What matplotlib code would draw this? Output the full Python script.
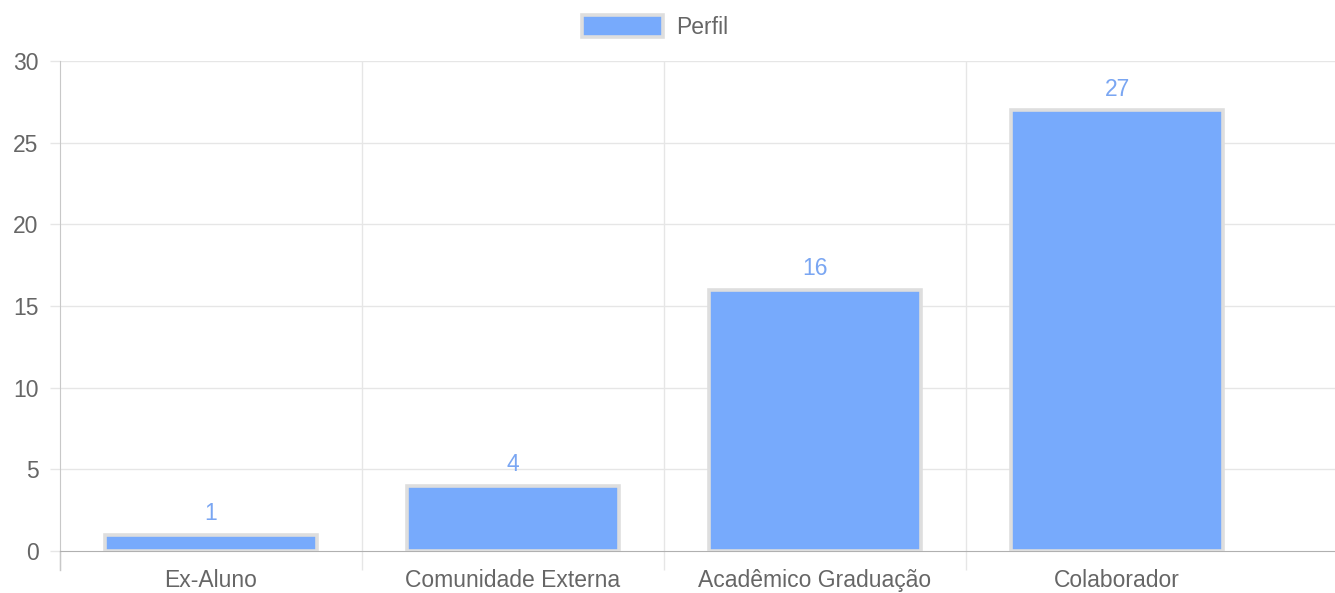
import matplotlib

matplotlib.use("Agg")
import matplotlib.pyplot as plt
import numpy as np

categories = ["Ex-Aluno", "Comunidade Externa", "Acadêmico Graduação", "Colaborador"]
values = [1, 4, 16, 27]
series_name = "Perfil"
y_ticks = [0, 5, 10, 15, 20, 25, 30]

BAR = "#77aafc"
EDGE = "#dedede"
GRID = "#e6e6e6"
AXIS = "#b0b0b0"
TEXT = "#666666"
LABEL = "#7aa6f2"

plt.rcParams["font.family"] = ["Liberation Sans", "DejaVu Sans"]

W, H = 1335, 593
fig = plt.figure(figsize=(W / 100, H / 100), dpi=100)
ax = fig.add_axes([60 / W, (H - 551) / H, 1 - 60 / W, (551 - 61) / H])

x = np.arange(len(categories))
bars = ax.bar(x, values, width=0.7, color=BAR, edgecolor=EDGE, linewidth=2.6,
              label=series_name, zorder=3)

for xi, v in zip(x, values):
    ax.annotate(str(v), (xi, v), xytext=(0, 15), textcoords="offset points",
                ha="center", va="center", fontsize=16.5, color=LABEL, zorder=4)

# category width in px = 302 -> right edge of axes runs past the last slot
ax.set_xlim(-0.5, -0.5 + (W - 60) / 302)
ax.set_ylim(0, 30)

# vertical grid lines at category boundaries, extended downward as tick marks
bounds = np.arange(len(categories)) - 0.5
ax.set_xticks(bounds)
ax.set_xticklabels([])
ax.set_xticks(x, minor=True)
ax.set_xticklabels(categories, minor=True)
ax.tick_params(axis="x", which="major", length=13.5, color=GRID, width=1)
ax.tick_params(axis="x", which="minor", length=0, pad=13, labelsize=16.5,
               labelcolor=TEXT)
for b in bounds[1:]:
    ax.axvline(b, color=GRID, lw=1, zorder=0)

ax.set_yticks(y_ticks)
ax.tick_params(axis="y", length=7.5, color=GRID, width=1, pad=8,
               labelsize=16.5, labelcolor=TEXT)
for t in y_ticks[1:]:
    ax.axhline(t, color=GRID, lw=1, zorder=0)

for s in ["top", "right"]:
    ax.spines[s].set_visible(False)
ax.spines["bottom"].set_color(AXIS)
ax.spines["left"].set_color("#c8c8c8")
ax.spines["left"].set_bounds(0, 30)
ax.plot([-0.5, -0.5], [0, -19 / 16.33], color="#c8c8c8", lw=1, clip_on=False)

leg = fig.legend(handles=[bars], labels=[series_name], loc="upper center",
                 bbox_to_anchor=(0.491, 1.005), frameon=False, fontsize=16.5,
                 handlelength=3.5, handleheight=1.1, handletextpad=0.6,
                 labelcolor=TEXT, borderaxespad=0.4)

fig.savefig("out.png", dpi=100, facecolor="white")
